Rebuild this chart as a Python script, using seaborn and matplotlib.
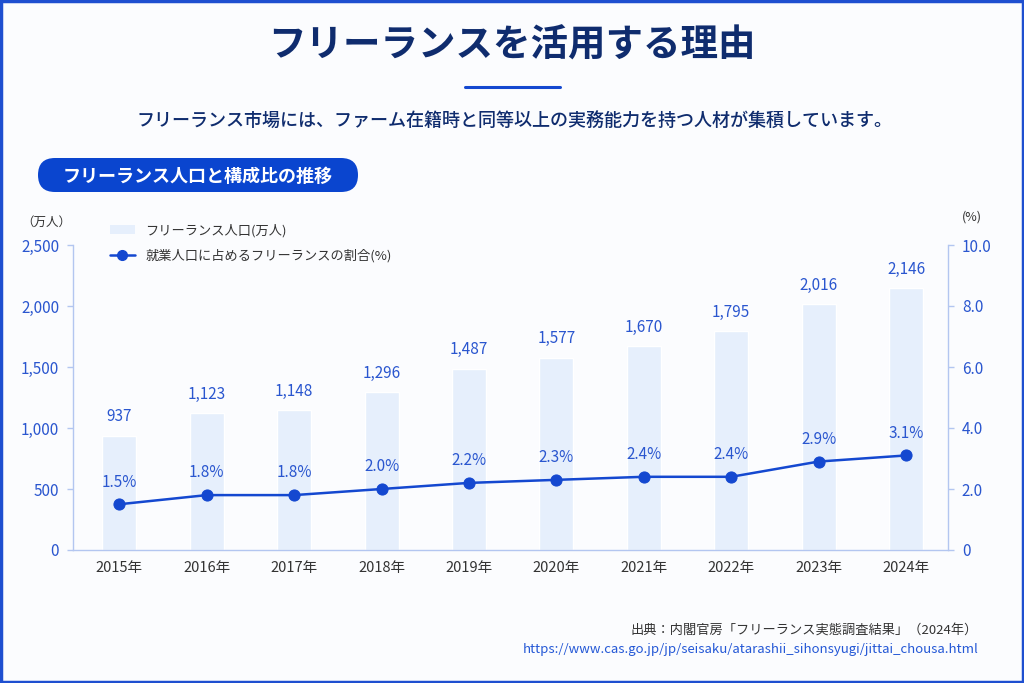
import numpy as np
import pandas as pd
import matplotlib
matplotlib.use("Agg")
import matplotlib.pyplot as plt
import seaborn as sns
from matplotlib.patches import FancyBboxPatch, Rectangle, Patch
from matplotlib.lines import Line2D

# ---- data ----
years = ["2015年", "2016年", "2017年", "2018年", "2019年", "2020年", "2021年", "2022年", "2023年", "2024年"]
population = [937, 1123, 1148, 1296, 1487, 1577, 1670, 1795, 2016, 2146]   # 万人
share = [1.5, 1.8, 1.8, 2.0, 2.2, 2.3, 2.4, 2.4, 2.9, 3.1]                  # %
left_ticks = [0, 500, 1000, 1500, 2000, 2500]
right_ticks = [0, 2, 4, 6, 8, 10]

title = "フリーランスを活用する理由"
subtitle = "フリーランス市場には、ファーム在籍時と同等以上の実務能力を持つ人材が集積しています。"
pill_text = "フリーランス人口と構成比の推移"
bar_label = "フリーランス人口(万人)"
line_label = "就業人口に占めるフリーランスの割合(%)"
source_text = "出典：内閣官房「フリーランス実態調査結果」（2024年）"
url_text = "https://www.cas.go.jp/jp/seisaku/atarashii_sihonsyugi/jittai_chousa.html"

# ---- style ----
sns.set_theme(style="white")
plt.rcParams["font.family"] = ["Noto Sans CJK JP", "DejaVu Sans"]

NAVY = "#0f2c6e"
BLUE = "#1448d0"
TICKBLUE = "#2a56cf"
AXISC = "#b3c6f0"
BARC = "#e6effc"
BG = "#fbfcfe"

df = pd.DataFrame({"year": years, "pop": population, "share": share})
df["pos"] = np.arange(len(df))

fig = plt.figure(figsize=(10.24, 6.83), dpi=100, facecolor=BG)
ax = fig.add_axes([73/1024, 1-550/683, (948-73)/1024, (550-245)/683])
ax.set_facecolor("none")

sns.barplot(data=df, x="year", y="pop", ax=ax, color=BARC, width=0.39,
            saturation=1, label=bar_label, legend=False)
ax.set_ylim(0, 2500)
ax.set_xlim(-0.53, 9.48)
ax.set_yticks(left_ticks)
ax.set_yticklabels([f"{t:,}" for t in left_ticks], color=TICKBLUE, fontsize=11)
ax.set_xlabel("")
ax.set_ylabel("")
ax.tick_params(axis="x", colors="#333333", labelsize=10.5, length=0, pad=8)
ax.tick_params(axis="y", length=4, color=AXISC, width=1, pad=6)
for lbl in ax.get_xticklabels():
    lbl.set_color("#333333")
for s in ["top", "right"]:
    ax.spines[s].set_visible(False)
for s in ["left", "bottom"]:
    ax.spines[s].set_color(AXISC)
    ax.spines[s].set_linewidth(1)

for x, v in zip(df["pos"], df["pop"]):
    ax.text(x, v + 85, f"{v:,}", ha="center", va="bottom", color=TICKBLUE, fontsize=11)

ax2 = ax.twinx()
ax2.set_position(ax.get_position())
sns.lineplot(data=df, x="pos", y="share", ax=ax2, color=BLUE, marker="o",
             markersize=8, markeredgecolor=BLUE, linewidth=1.8, label=line_label, legend=False)
ax2.set_ylim(0, 10)
ax2.set_yticks(right_ticks)
ax2.set_yticklabels(["0" if t == 0 else f"{t:.1f}" for t in right_ticks], color=TICKBLUE, fontsize=11)
ax2.set_xlabel("")
ax2.set_ylabel("")
ax2.tick_params(axis="y", length=4, color=AXISC, width=1, pad=6)
for s in ["top", "left", "bottom"]:
    ax2.spines[s].set_visible(False)
ax2.spines["right"].set_color(AXISC)
ax2.spines["right"].set_linewidth(1)
ax2.set_xlim(-0.53, 9.48)

for x, v in zip(df["pos"], df["share"]):
    ax2.text(x, v + 0.45, f"{v:.1f}%", ha="center", va="bottom", color=TICKBLUE, fontsize=11)

# axis unit labels
fig.text(46/1024, 1-222/683, "（万人）", ha="center", va="center", color="#333333", fontsize=9)
fig.text(972/1024, 1-217/683, "(%)", ha="center", va="center", color="#333333", fontsize=9)

# legend
handles = [Patch(facecolor=BARC, edgecolor="none"),
           Line2D([0], [0], color=BLUE, marker="o", markersize=7, linewidth=1.8)]
fig.legend(handles, [bar_label, line_label], loc="upper left",
           bbox_to_anchor=(98/1024, 1-212/683), frameon=False, fontsize=9.5,
           handlelength=1.9, labelspacing=0.9, handletextpad=0.8, labelcolor="#333333")

# title, underline, subtitle
fig.text(512/1024, 1-45/683, title, ha="center", va="center", color=NAVY, fontsize=27, fontweight="bold")
fig.add_artist(Line2D([465/1024, 560/1024], [1-87/683, 1-87/683], transform=fig.transFigure,
                      color=BLUE, linewidth=2.2))
fig.text(514/1024, 1-122/683, subtitle, ha="center", va="center", color=NAVY, fontsize=13,
         fontweight="medium")

# pill
pill = FancyBboxPatch((0.38, (683-192)/100), 3.20, 0.34,
                      boxstyle="round,pad=0,rounding_size=0.17",
                      transform=fig.dpi_scale_trans, facecolor="#0a45cf", edgecolor="none")
fig.add_artist(pill)
fig.text(198/1024, 1-176/683, pill_text, ha="center", va="center", color="white",
         fontsize=13, fontweight="bold")

# source
fig.text(978/1024, 1-630/683, source_text, ha="right", va="center", color="#333333", fontsize=9.5)
fig.text(978/1024, 1-649/683, url_text, ha="right", va="center", color="#2458d6", fontsize=9.5)

# frame
fig.add_artist(Rectangle((0.001, 0.0015), 0.998, 0.997, transform=fig.transFigure,
                         fill=False, edgecolor="#1e4fd0", linewidth=2.5))

fig.savefig("out.png", dpi=100, facecolor=BG)
